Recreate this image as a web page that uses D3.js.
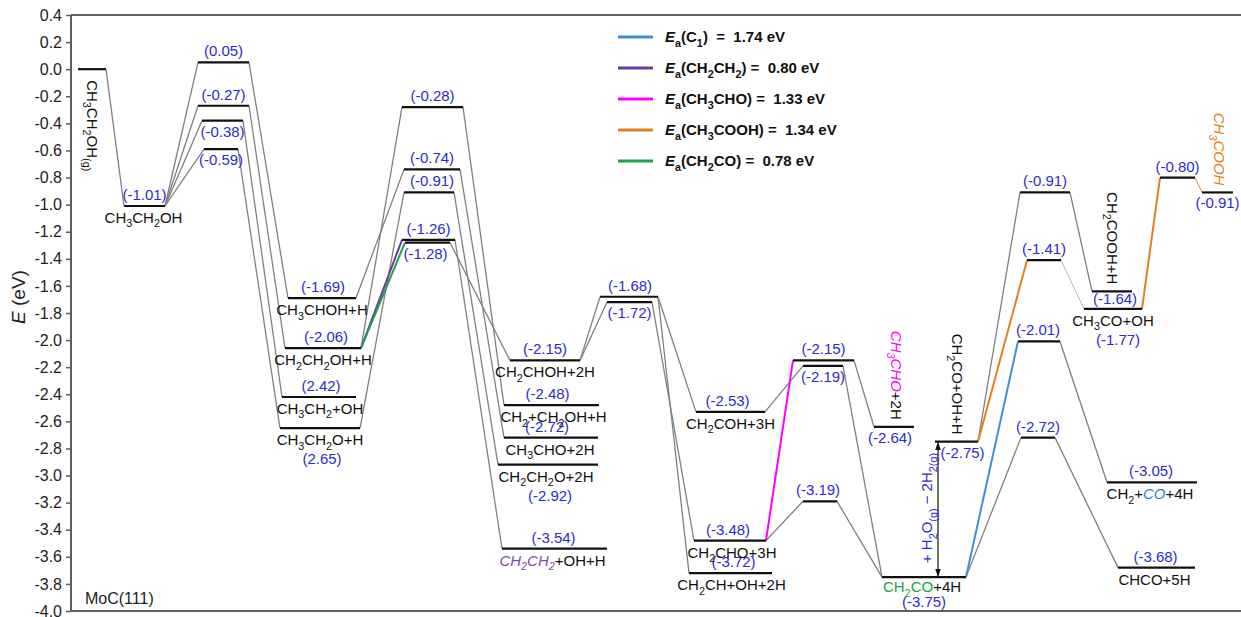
<!DOCTYPE html>
<html>
<head>
<meta charset="utf-8">
<script src="https://cdn.jsdelivr.net/npm/d3@7"></script>
<style>
  body { margin: 0; background: #fff; }
  svg { display: block; }
  text { font-family: "Liberation Sans", Arial, Helvetica, sans-serif; }
</style>
</head>
<body>
<svg id="chart" width="1241" height="617"></svg>
<script>
// ---------- data ----------
const yTicks = [0.4, 0.2, 0.0, -0.2, -0.4, -0.6, -0.8, -1.0, -1.2, -1.4, -1.6, -1.8,
                -2.0, -2.2, -2.4, -2.6, -2.8, -3.0, -3.2, -3.4, -3.6, -3.8, -4.0];

// energy levels (eV) along the ethanol decomposition network
const levelKeys = ["g0","i1","ts1a","ts1b","ts1c","ts1d","i2a","i2b","i2c","i2d",
  "ts2a","ts2b","ts2c","ts2d","ts2e","i3a","i3b","i3c","i3d","i3e","ts3a","ts3b",
  "i4a","i4b","i4c","ts4a","ts4b","ts4c","p1","i5","i5b","ts5a","ts5b","ts5c","ts5d",
  "i6a","i6b","i6c","i6d","ts6","p2"];
const levelEnergy = [0.00,-1.01,0.05,-0.27,-0.38,-0.59,-1.69,-2.06,-2.42,-2.65,
  -0.28,-0.74,-0.91,-1.26,-1.28,-2.15,-2.48,-2.72,-2.92,-3.54,-1.68,-1.72,
  -2.53,-3.48,-3.72,-2.15,-2.19,-3.19,-2.64,-3.75,-2.75,-0.91,-1.41,-2.01,-2.72,
  -1.64,-1.77,-3.05,-3.68,-0.80,-0.91];

// horizontal extent of each level on the reaction coordinate
const levelSpan = [[0.7,3.5],[5.3,9.4],[12.7,17.8],[12.7,17.8],[13.1,17.2],[13.3,16.7],
  [21.7,28.5],[21.4,29.0],[21.1,28.5],[20.9,28.9],[33.1,39.2],[33.3,38.9],[33.3,38.3],
  [33.1,38.4],[33.4,37.9],[43.9,50.9],[43.3,52.8],[43.3,52.7],[42.7,52.7],[43.1,53.6],
  [52.9,58.7],[53.6,58.1],[62.5,69.4],[62.3,69.5],[61.8,70.1],[72.2,78.3],[73.2,77.2],
  [73.2,76.6],[80.3,84.3],[81.1,89.5],[86.4,90.7],[94.9,99.9],[95.6,99.0],[94.7,98.9],
  [95.0,98.4],[102.1,106.1],[101.3,107.1],[103.6,112.6],[104.7,112.4],[108.9,112.4],[113.1,116.2]];

// plain grey connections between consecutive states
const greyLinks = [["g0","i1"],["i1","ts1a"],["i1","ts1b"],["i1","ts1c"],["i1","ts1d"],
  ["ts1a","i2a"],["ts1b","i2b"],["ts1c","i2c"],["ts1d","i2d"],
  ["i2b","ts2a"],["i2a","ts2b"],["i2d","ts2c"],
  ["ts2a","i3b"],["ts2b","i3c"],["ts2c","i3d"],["ts2d","i3e"],["ts2e","i3a"],
  ["i3a","ts3a"],["i3a","ts3b"],["ts3a","i4a"],["ts3a","i4c"],["ts3b","i4b"],
  ["i4a","ts4b"],["ts4b","i5"],["i4b","ts4c"],["ts4c","i5"],["ts4a","p1"],
  ["i5","ts5d"],["i5b","ts5a"],["ts5a","i6a"],["ts5c","i6c"],["ts5d","i6d"]];
const faintLinks = [["ts5b","i6b"]];

// rate-limiting steps highlighted per product
const pathKeys = ["C1","CH2CH2","CH3CHO","CH3COOH","CH2CO"];
const pathColor = ["#3f8fd8","#6a3d9a","#ff00ff","#e2801c","#1e9f4c"];
const pathLabel = ["C_1","CH_2CH_2","CH_3CHO","CH_3COOH","CH_2CO"];
const pathEa = [1.74, 0.80, 1.33, 1.34, 0.78];
const pathLinks = [["i2b","ts2d","CH2CH2"],["i2b","ts2e","CH2CO"],["i4b","ts4a","CH3CHO"],
  ["i5","ts5c","C1"],["i5b","ts5b","CH3COOH"],["i6b","ts6","CH3COOH"]];
const pathLinksThin = [["ts6","p2","CH3COOH"]];

// energy labels: placement a = above, b = below, b2 = second line below
const valueLabels = [["i1","a",0],["ts1a","a",0],["ts1b","a",0],["ts1c","b",0],["ts1d","b",0],
  ["i2a","a",1],["i2b","a",3],["i2c","a",2],["i2d","b2",2],
  ["ts2a","a",0],["ts2b","a",0],["ts2c","a",3],["ts2d","a",0],["ts2e","b",-2],
  ["i3a","a",0],["i3b","a",-4],["i3c","a",-4],["i3d","b2",2],["i3e","a",-1],
  ["ts3a","a",1],["ts3b","b",0],["i4a","a",-3],["i4b","a",-2],["i4c","a",3],
  ["ts4a","a",0],["ts4b","b",0],["ts4c","a",-2],["p1","b",-4],["i5","b2s",0],["i5b","b",6],
  ["ts5a","a",0],["ts5b","a",0],["ts5c","a",-1],["ts5d","a",0],
  ["i6a","bs",3],["i6b","b2",5],["i6c","a",-1],["i6d","a",-1],["ts6","a",0],["p2","b",0]];
const valueText = { i2c: "(2.42)", i2d: "(2.65)" };

// species names: modes b = below, bs = below (tight), rot = vertical above, rotS = vertical below
const nameLabels = [
  ["g0","rotS",-5,[{t:"CH_3CH_2OH_{(g)}"}]],
  ["i1","b",-1,[{t:"CH_3CH_2OH"}]],
  ["i2a","b",0,[{t:"CH_3CHOH+H"}]],
  ["i2b","b",0,[{t:"CH_2CH_2OH+H"}]],
  ["i2c","b",1,[{t:"CH_3CH_2+OH"}]],
  ["i2d","b",0,[{t:"CH_3CH_2O+H"}]],
  ["i3a","b",0,[{t:"CH_2CHOH+2H"}]],
  ["i3b","b",2,[{t:"CH_2+CH_2OH+H"}]],
  ["i3c","b",-1,[{t:"CH_3CHO+2H"}]],
  ["i3d","b",-2,[{t:"CH_2CH_2O+2H"}]],
  ["i3e","b",-2,[{t:"CH_2CH_2",fill:"#7b4fa8",italic:true},{t:"+OH+H"}]],
  ["i4a","b",0,[{t:"CH_2COH+3H"}]],
  ["i4b","b",2,[{t:"CH_2CHO+3H"}]],
  ["i4c","b",1,[{t:"CH_2CH+OH+2H"}]],
  ["p1","rot",-3,[{t:"CH_3CHO",fill:"#ff00ff",italic:true},{t:"+2H"}]],
  ["i5","bs",-2,[{t:"CH_2CO",fill:"#1e9f4c"},{t:"+4H"}]],
  ["i5b","rot",-5,[{t:"CH_2CO+OH+H"}]],
  ["i6a","rot",-5,[{t:"CH_2COOH+H"}]],
  ["i6b","b",0,[{t:"CH_3CO+OH"}]],
  ["i6c","b",-2,[{t:"CH_2+"},{t:"CO",fill:"#2f86c6",italic:true},{t:"+4H"}]],
  ["i6d","b",-2,[{t:"CHCO+5H"}]],
  ["p2","rot",-4,[{t:"CH_3COOH",fill:"#e2801c",italic:true}]]
];

// ---------- setup ----------
const svg = d3.select("#chart");
const W = 1241, H = 617;
const plot = { left: 71, top: 15, bottom: 611, right: 1250 };
const y = d3.scaleLinear().domain([-4.0, 0.4]).range([plot.bottom, plot.top]);
const x = d3.scaleLinear().domain([0, 117]).range([71, 1241]);

const levels = new Map(levelKeys.map((k, i) => [k, {
  key: k, e: levelEnergy[i], x0: levelSpan[i][0], x1: levelSpan[i][1]
}]));
const colorOf = new Map(pathKeys.map((k, i) => [k, pathColor[i]]));

const FS = 15;
const valueColor = "#2b2bd4";

// rich text: "_x" or "_{...}" marks a subscript
function rich(sel, segs, size) {
  let sub = false;
  segs.forEach(seg => {
    const parts = seg.t.split(/(_\{[^}]*\}|_.)/).filter(s => s.length);
    parts.forEach(p => {
      const isSub = p.startsWith("_");
      const txt = isSub ? (p[1] === "{" ? p.slice(2, -1) : p.slice(1)) : p;
      const ts = sel.append("tspan").text(txt).attr("font-size", isSub ? size * 0.72 : size);
      if (isSub !== sub) { ts.attr("dy", isSub ? size * 0.3 : -size * 0.3); sub = isSub; }
      if (seg.fill) ts.attr("fill", seg.fill);
      if (seg.italic) ts.attr("font-style", "italic");
      if (seg.bold) ts.attr("font-weight", "bold");
    });
  });
}

// ---------- axis frame ----------
const frame = svg.append("g").attr("stroke", "#5f5f5f").attr("stroke-width", 2).attr("fill", "none");
frame.append("line").attr("x1", plot.left).attr("x2", plot.right).attr("y1", plot.top).attr("y2", plot.top);
frame.append("line").attr("x1", plot.left).attr("x2", plot.right).attr("y1", plot.bottom).attr("y2", plot.bottom);
frame.append("line").attr("x1", plot.left).attr("x2", plot.left).attr("y1", plot.top).attr("y2", plot.bottom);

const yAxis = svg.append("g").attr("transform", `translate(${plot.left},0)`)
  .call(d3.axisLeft(y).tickValues(yTicks).tickSize(5).tickPadding(4)
    .tickFormat(d => d.toFixed(1)));
yAxis.select(".domain").remove();
yAxis.selectAll(".tick line").attr("stroke", "#5f5f5f").attr("stroke-width", 1.5);
yAxis.selectAll(".tick text").attr("font-size", 16).attr("fill", "#222")
  .attr("font-family", "'Liberation Sans', Arial, sans-serif");

svg.append("text")
  .attr("transform", `translate(25,${(plot.top + plot.bottom) / 2 - 16}) rotate(-90)`)
  .attr("text-anchor", "middle").attr("font-size", 19).attr("fill", "#222")
  .call(t => { t.append("tspan").attr("font-style", "italic").text("E"); t.append("tspan").text(" (eV)"); });

svg.append("text").attr("x", 85).attr("y", 604).attr("font-size", 16).attr("fill", "#222").text("MoC(111)");

// ---------- connectors ----------
function linkLine(g, a, b) {
  const A = levels.get(a), B = levels.get(b);
  return g.append("line")
    .attr("x1", x(A.x1)).attr("y1", y(A.e))
    .attr("x2", x(B.x0)).attr("y2", y(B.e));
}
const gLinks = svg.append("g").attr("stroke", "#808080").attr("stroke-width", 1.3);
greyLinks.forEach(([a, b]) => linkLine(gLinks, a, b));
const gFaint = svg.append("g").attr("stroke", "#b0b0b0").attr("stroke-width", 0.9);
faintLinks.forEach(([a, b]) => linkLine(gFaint, a, b));

const gPath = svg.append("g").attr("stroke-width", 2);
pathLinks.forEach(([a, b, k]) => linkLine(gPath, a, b).attr("stroke", colorOf.get(k)));
pathLinksThin.forEach(([a, b, k]) => linkLine(gPath, a, b).attr("stroke", colorOf.get(k)).attr("stroke-width", 0.9));

// ---------- levels ----------
svg.append("g").selectAll("line").data([...levels.values()]).join("line")
  .attr("x1", d => x(d.x0)).attr("x2", d => x(d.x1))
  .attr("y1", d => y(d.e)).attr("y2", d => y(d.e))
  .attr("stroke", "#111").attr("stroke-width", 2.2);

// ---------- energy labels ----------
const valOffset = { a: -6, b: 16, b2: 36, bs: 13, b2s: 30 };
const gVals = svg.append("g").attr("font-size", FS).attr("fill", valueColor).attr("text-anchor", "middle");
valueLabels.forEach(([k, mode, dx]) => {
  const L = levels.get(k);
  gVals.append("text")
    .attr("x", (x(L.x0) + x(L.x1)) / 2 + dx)
    .attr("y", y(L.e) + valOffset[mode])
    .text(valueText[k] || `(${L.e.toFixed(2)})`);
});

// ---------- species labels ----------
const gNames = svg.append("g").attr("fill", "#111");
nameLabels.forEach(([k, mode, dx, segs]) => {
  const L = levels.get(k);
  const cx = (x(L.x0) + x(L.x1)) / 2 + dx;
  const t = gNames.append("text").attr("font-size", FS);
  if (mode === "rot") {
    t.attr("transform", `translate(${cx},${y(L.e) - 7}) rotate(90)`).attr("text-anchor", "end");
  } else if (mode === "rotS") {
    t.attr("transform", `translate(${cx},${y(L.e) + 11}) rotate(90)`).attr("text-anchor", "start");
  } else {
    t.attr("x", cx).attr("y", y(L.e) + (mode === "bs" ? 15 : 17)).attr("text-anchor", "middle");
  }
  rich(t, segs, FS);
});

// ---------- water / hydrogen exchange arrow ----------
const defs = svg.append("defs");
["s", "e"].forEach(id => {
  defs.append("marker").attr("id", "arr" + id).attr("viewBox", "0 0 10 10")
    .attr("refX", 9).attr("refY", 5).attr("markerWidth", 7).attr("markerHeight", 7)
    .attr("orient", id === "s" ? "auto-start-reverse" : "auto")
    .append("path").attr("d", "M0,1.5 L10,5 L0,8.5 Z").attr("fill", "#111");
});
const lo = levels.get("i5"), hi = levels.get("i5b");
const ax = x(hi.x0) + 3;
svg.append("line").attr("x1", ax).attr("x2", ax)
  .attr("y1", y(lo.e) - 1).attr("y2", y(hi.e) + 1)
  .attr("stroke", "#111").attr("stroke-width", 1.2)
  .attr("marker-start", "url(#arrs)").attr("marker-end", "url(#arre)");
const arrowText = svg.append("text")
  .attr("transform", `translate(${ax - 6},${y(lo.e) - 14}) rotate(-90)`)
  .attr("fill", valueColor).attr("font-size", FS).style("white-space", "pre");
rich(arrowText, [{ t: "+ H_2O_{(g)} \u2212 2H_{2(g)}" }], FS);

// ---------- legend ----------
const legend = svg.append("g");
pathKeys.forEach((k, i) => {
  const ly = 37 + i * 31;
  legend.append("line").attr("x1", 618).attr("x2", 653).attr("y1", ly).attr("y2", ly)
    .attr("stroke", pathColor[i]).attr("stroke-width", 3);
  const t = legend.append("text").attr("x", 665).attr("y", ly + 5)
    .attr("font-size", 15).attr("font-weight", "bold").attr("fill", "#111")
    .style("white-space", "pre");
  const gap = k === "C1" ? ")  =  " : ") =  ";
  rich(t, [{ t: "E", italic: true, bold: true }, { t: "_a(" + pathLabel[i], bold: true },
           { t: gap + pathEa[i].toFixed(2) + " eV", bold: true }], 15);
});
</script>
</body>
</html>
